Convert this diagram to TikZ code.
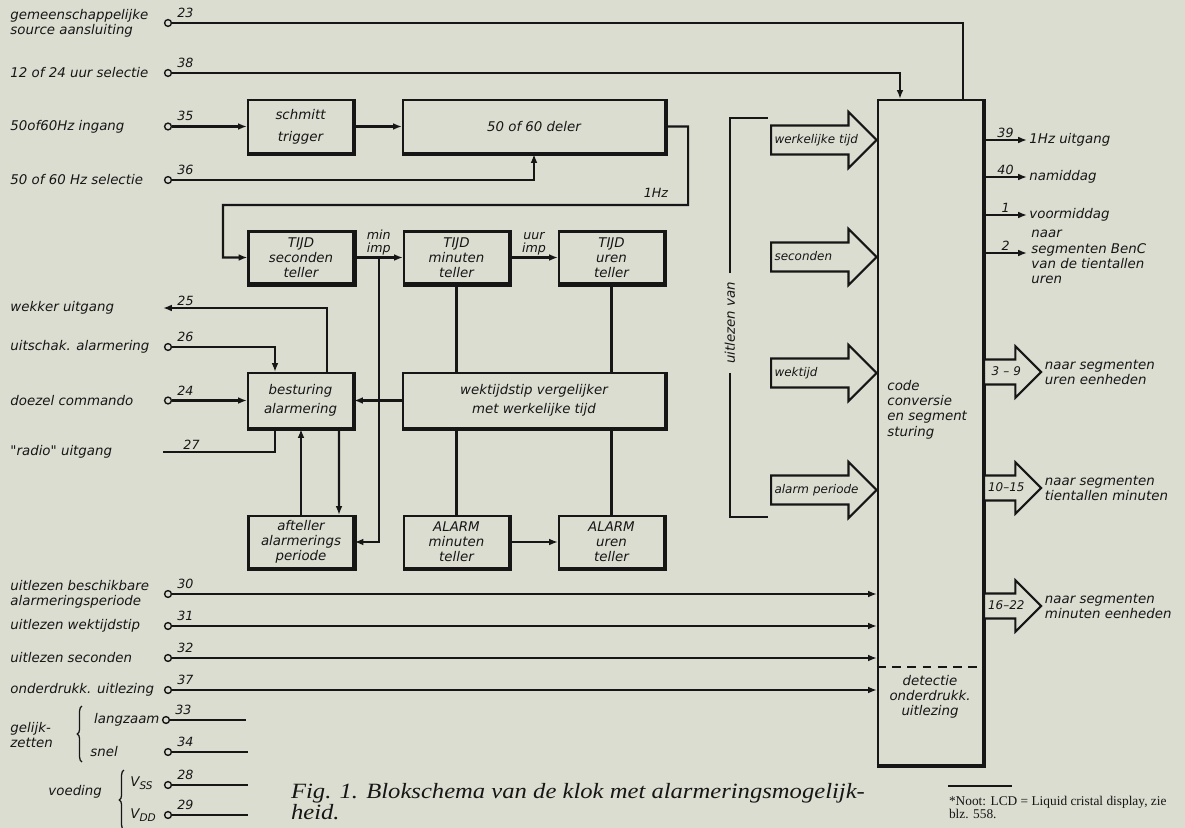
\documentclass[tikz,border=0pt]{standalone}
\usepackage{fontspec}
\newfontfamily\schrift{DejaVu Sans}
\newfontfamily\bijschrift{Liberation Serif}[FakeStretch=1.13]
\newfontfamily\noottekst{Liberation Serif}
\usetikzlibrary{arrows.meta,calc,shapes.arrows,decorations.pathreplacing}
\definecolor{papier}{RGB}{219,221,209}
\definecolor{inkt}{RGB}{22,22,22}
\tikzset{
  blok/.style={draw, fill=papier, align=center, inner sep=1pt,
    minimum width=2.625cm, minimum height=1.3cm,
    font=\schrift\itshape\fontsize{9.5}{10.6}\selectfont},
  term/.style={circle, draw, line width=1pt, fill=papier, inner sep=0pt, minimum size=0.17cm},
  lbl/.style={align=left, inner sep=1pt, font=\schrift\itshape\fontsize{9.5}{10.8}\selectfont},
  num/.style={inner sep=1pt, font=\schrift\itshape\fontsize{9}{9.5}\selectfont},
  pijl/.style={-{Latex[length=0.22cm,width=0.17cm]}},
  dikrand/.style={line width=2.8pt},
  fatin/.style={single arrow, draw, fill=papier, single arrow tip angle=90,
    single arrow head extend=0.34cm, text width=2.1cm, inner xsep=0.06cm,
    inner ysep=0.18cm, text height=0.24cm, text depth=0.07cm, align=left,
    font=\schrift\itshape\fontsize{8.5}{10}\selectfont},
  fatuit/.style={fatin, text width=1.02cm, inner xsep=0.02cm, inner ysep=0.13cm,
    single arrow head extend=0.33cm, align=center,
    font=\schrift\itshape\fontsize{8.5}{10}\selectfont}
}
\begin{document}
\begin{tikzpicture}[x=0.025cm,y=-0.025cm,line width=1.5pt,color=inkt]
\fill[papier] (0,0) rectangle (1185,828);
\useasboundingbox (0,0) rectangle (1185,828);

\node[blok, minimum height=1.325cm] (schmitt) at (300.5,126.5) {schmitt\\[5pt]trigger};
\node[blok, minimum width=6.55cm, minimum height=1.325cm] (deler) at (534,126.5) {50 of 60 deler};
\node[blok] (secteller) at (301,257.5) {TIJD\\seconden\\teller};
\node[blok] (minteller) at (456.5,257.5) {TIJD\\minuten\\teller};
\node[blok] (urteller) at (611.5,257.5) {TIJD\\uren\\teller};
\node[blok, minimum height=1.375cm] (bestur) at (300.5,400.5) {besturing\\[3pt]alarmering};
\node[blok, minimum width=6.55cm, minimum height=1.375cm] (verg) at (534,400.5) {wektijdstip vergelijker\\[3pt]met werkelijke tijd};
\node[blok] (aft) at (301,542) {afteller\\alarmerings\\periode};
\node[blok] (amin) at (456.5,542) {ALARM\\minuten\\teller};
\node[blok] (auren) at (611.5,542) {ALARM\\uren\\teller};
\node[blok, minimum height=16.625cm] (code) at (930.5,432.5) {};
\foreach \b in {schmitt,deler,secteller,minteller,urteller,bestur,verg,aft,amin,auren,code}
  \draw[dikrand] (\b.north east) -- (\b.south east) -- (\b.south west);

\node[lbl, anchor=north west] (codetekst) at (885,378) {code\\conversie\\en segment\\sturing};
\node[lbl, align=center] (detectie) at (930,697) {detectie\\onderdrukk.\\uitlezing};
\draw[dashed, dash pattern=on 0.22cm off 0.16cm] ($(code.south west)+(0,-99)$) -- ($(code.south east)+(0,-99)$);

\foreach \n/\y/\tekst in {23/23/{gemeenschappelijke\\source aansluiting},
    38/73/{12 of 24 uur selectie}, 35/126.5/{50of60Hz ingang},
    36/180/{50 of 60 Hz selectie}, 26/347/{uitschak. alarmering},
    24/400.5/{doezel commando}, 30/594/{uitlezen beschikbare\\alarmeringsperiode},
    31/626/{uitlezen wektijdstip}, 32/658/{uitlezen seconden},
    37/690/{onderdrukk. uitlezing}}
{
  \node[term, label={[num, xshift=0.1cm]above right:\n}] (t\n) at (168,\y) {};
  \node[lbl, anchor=west] (l\n) at (8,\y) {\tekst};
}

\draw (t23) -| ($(code.north)+(32.5,0)$);
\draw[pijl] (t38) -| ($(code.north)+(-30.5,0)$);
\draw[pijl] (t35) -- (schmitt);
\draw[pijl] (schmitt) -- (deler);
\draw[pijl] (t36) -| (deler.south);
\coordinate (terug) at (223,205);
\draw[pijl] (deler.east) -| ($(deler.east)+(22,78.5)$) -- (terug) |- (secteller.west);
\node[num] (hz) at (656,193) {1Hz};

\draw[pijl] (secteller) -- (minteller);
\draw[pijl] (minteller) -- (urteller);
\node[num, above, align=center] (minimp) at ($(secteller.east)!0.5!(minteller.west)$) {min\\imp};
\node[num, above, align=center] (uurimp) at ($(minteller.east)!0.5!(urteller.west)$) {uur\\imp};
\draw[pijl] ($(secteller.east)!0.5!(minteller.west)$) |- (aft.east);
\draw (minteller.south) -- (minteller.south |- verg.north);
\draw (urteller.south) -- (urteller.south |- verg.north);
\draw (amin.north |- verg.south) -- (amin.north);
\draw (auren.north |- verg.south) -- (auren.north);
\draw[pijl] (amin) -- (auren);
\draw[pijl] (verg) -- (bestur);

\coordinate (w25) at (163,308);
\node[lbl, anchor=west] (l25) at (8,308) {wekker uitgang};
\draw[pijl] ($(bestur.north)+(26.5,0)$) |- (w25);
\node[num, above right] (n25) at ($(w25)+(12,0)$) {25};
\draw[pijl] (t26) -| ($(bestur.north)+(-25.5,0)$);
\draw[pijl] (t24) -- (bestur);
\coordinate (r27) at (163,452);
\node[lbl, anchor=west] (l27) at (8,452) {"radio" uitgang};
\draw ($(bestur.south)+(-25.5,0)$) |- (r27);
\node[num, above right] (n27) at ($(r27)+(18,0)$) {27};
\draw[pijl] (aft.north) -- (aft.north |- bestur.south);
\draw[pijl] ($(bestur.south)+(38.5,0)$) -- ($(aft.north)+(38,0)$);

\foreach \n in {30,31,32,37}
  \draw[pijl] (t\n) -- (t\n -| code.west);

\node[term, label={[num, xshift=0.1cm]above right:33}] (t33) at (166,720) {};
\node[lbl, anchor=east] (l33) at (t33.west) {langzaam};
\node[term, label={[num, xshift=0.1cm]above right:34}] (t34) at (168,752) {};
\node[lbl, anchor=west] (l34) at (88,752) {snel};
\node[lbl, anchor=west] (gelijk) at (8,735) {gelijk-\\zetten};
\draw[decorate, decoration={brace, amplitude=0.12cm}, line width=0.9pt] (82,762) -- (82,706);
\node[term, label={[num, xshift=0.1cm]above right:28}] (t28) at (168,785) {};
\node[lbl, anchor=west] (l28) at (128,783) {V\raisebox{-0.25em}{\fontsize{7.5}{8}\selectfont SS}};
\node[term, label={[num, xshift=0.1cm]above right:29}] (t29) at (168,815) {};
\node[lbl, anchor=west] (l29) at (128,815) {V\raisebox{-0.25em}{\fontsize{7.5}{8}\selectfont DD}};
\node[lbl, anchor=west] (voeding) at (46,792) {voeding};
\draw[decorate, decoration={brace, amplitude=0.12cm}, line width=0.9pt] (124,830) -- (124,770);
\foreach \n in {33,34,28,29}
  \draw (t\n) -- ++(80,0);

\node[lbl, rotate=90, inner xsep=0.2cm] (uitl) at (730,323) {uitlezen van};
\draw (uitl.east) -- (730,118) -- (768,118);
\draw (uitl.west) -- (730,517) -- (768,517);

\node[fatin, anchor=tip] (werk) at (878,140) {werkelijke tijd};
\node[fatin, anchor=tip] (sec) at (878,257) {seconden};
\node[fatin, anchor=tip] (wek) at (878,373) {wektijd};
\node[fatin, anchor=tip] (alarm) at (878,490) {alarm periode};

\coordinate (o39) at (1027,140);
\coordinate (o40) at (1027,177);
\coordinate (o1) at (1027,215);
\coordinate (o2) at (1027,253);
\draw[pijl] (code.east |- o39) -- node[num, above] (n39) {39} (o39);
\draw[pijl] (code.east |- o40) -- node[num, above] (n40) {40} (o40);
\draw[pijl] (code.east |- o1) -- node[num, above] (n1) {1} (o1);
\draw[pijl] (code.east |- o2) -- node[num, above] (n2) {2} (o2);
\node[lbl, anchor=west] (u39) at (o39) {1Hz uitgang};
\node[lbl, anchor=west] (u40) at (o40) {namiddag};
\node[lbl, anchor=west] (u1) at (o1) {voormiddag};
\node[lbl, anchor=west] (u2) at ($(o2)+(2,4)$) {naar\\segmenten BenC\\van de tientallen\\uren};

\node[fatuit, anchor=tail] (seg1) at (983,372) {3 – 9};
\node[fatuit, anchor=tail] (seg2) at (983,488) {10–15};
\node[fatuit, anchor=tail] (seg3) at (983,606) {16–22};
\node[lbl, anchor=west] (seg1t) at (seg1.tip) {naar segmenten\\uren eenheden};
\node[lbl, anchor=west] (seg2t) at (seg2.tip) {naar segmenten\\tientallen minuten};
\node[lbl, anchor=west] (seg3t) at (seg3.tip) {naar segmenten\\minuten eenheden};

\node[anchor=north west, align=left, inner sep=0pt, font=\bijschrift\itshape\fontsize{15.5}{15}\selectfont] (fig) at (290,782) {Fig. 1. Blokschema van de klok met alarmeringsmogelijk-\\heid.};
\node[anchor=north west, align=left, inner sep=0pt, font=\noottekst\fontsize{9.5}{9.5}\selectfont] (noot) at (948,795) {*Noot: LCD = Liquid cristal display, zie\\blz. 558.};
\draw[line width=0.8pt] (noot.north west) ++(0,-9) -- ++(64,0);
\end{tikzpicture}
\end{document}
